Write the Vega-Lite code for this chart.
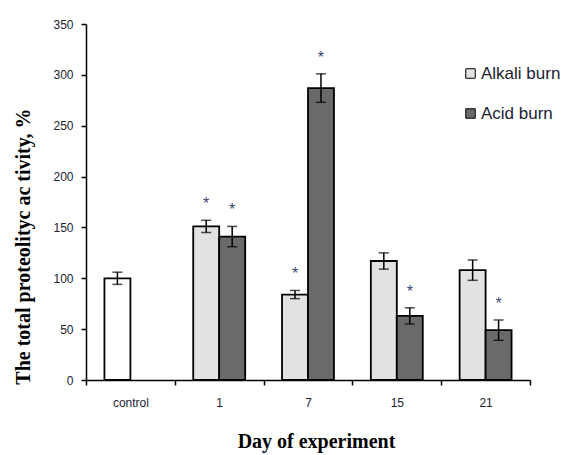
{
  "$schema": "https://vega.github.io/schema/vega-lite/v6.json",
  "width": 444,
  "height": 356,
  "autosize": {"type": "none"},
  "padding": {"left": 86, "top": 24, "right": 34, "bottom": 75},
  "background": "white",
  "config": {
    "view": {"stroke": null},
    "font": "Liberation Sans",
    "axis": {"domainColor": "black", "tickColor": "black", "domainWidth": 1.5, "tickWidth": 1.5, "labelColor": "#222233", "titleColor": "black"}
  },
  "data": {
    "values": [
      {"day": "control", "type": "Control", "slot": 1, "mean": 100, "sd": 6, "star": ""},
      {"day": "1", "type": "Alkali burn", "slot": 1, "mean": 151, "sd": 6, "star": "*"},
      {"day": "1", "type": "Acid burn", "slot": 2, "mean": 141, "sd": 10, "star": "*"},
      {"day": "7", "type": "Alkali burn", "slot": 1, "mean": 84, "sd": 4, "star": "*"},
      {"day": "7", "type": "Acid burn", "slot": 2, "mean": 287, "sd": 14, "star": "*"},
      {"day": "15", "type": "Alkali burn", "slot": 1, "mean": 117, "sd": 8, "star": ""},
      {"day": "15", "type": "Acid burn", "slot": 2, "mean": 63, "sd": 8, "star": "*"},
      {"day": "21", "type": "Alkali burn", "slot": 1, "mean": 108, "sd": 10, "star": ""},
      {"day": "21", "type": "Acid burn", "slot": 2, "mean": 49, "sd": 10, "star": "*"}
    ]
  },
  "transform": [
    {"calculate": "datum.mean - datum.sd", "as": "lo"},
    {"calculate": "datum.mean + datum.sd", "as": "hi"}
  ],
  "encoding": {
    "x": {
      "field": "day", "type": "nominal",
      "sort": ["control", "1", "7", "15", "21"],
      "scale": {"paddingInner": 0, "paddingOuter": 0},
      "axis": {
        "title": "Day of experiment",
        "labelAngle": 0,
        "tickBand": "extent",
        "tickSize": 5,
        "labelFontSize": 12,
        "labelFont": "Liberation Sans Narrow, Liberation Sans",
        "labelPadding": 12,
        "titleFont": "Liberation Serif",
        "titleFontWeight": "bold",
        "titleFontSize": 20,
        "titleX": 230,
        "titleY": 61,
        "titleBaseline": "middle"
      }
    },
    "xOffset": {"field": "slot", "type": "ordinal", "scale": {"domain": [1, 2], "paddingInner": 0, "paddingOuter": 0.71}}
  },
  "layer": [
    {
      "mark": {"type": "bar", "stroke": "black", "strokeWidth": 1.8},
      "encoding": {
        "y": {
          "field": "mean", "type": "quantitative",
          "scale": {"domain": [0, 350]},
          "axis": {
            "title": "The total proteolityc ac tivity, %",
            "values": [0, 50, 100, 150, 200, 250, 300, 350],
            "grid": false,
            "tickSize": 5,
            "labelFontSize": 12,
            "labelFont": "Liberation Sans Narrow, Liberation Sans",
            "labelPadding": 8,
            "titleFont": "Liberation Serif",
            "titleFontWeight": "bold",
            "titleFontSize": 20,
            "titleAngle": -90,
            "titleX": -63,
            "titleY": 222,
            "titleAlign": "center",
            "titleBaseline": "middle"
          }
        },
        "color": {
          "field": "type", "type": "nominal",
          "scale": {"domain": ["Alkali burn", "Acid burn", "Control"], "range": ["#e2e2e2", "#6a6a6a", "white"]},
          "legend": {
            "values": ["Alkali burn", "Acid burn"],
            "title": null,
            "orient": "none",
            "legendX": 376,
            "legendY": 41,
            "padding": 0,
            "symbolType": "square",
            "symbolSize": 90,
            "symbolStrokeColor": "black",
            "symbolStrokeWidth": 1,
            "symbolOpacity": 1,
            "labelFontSize": 17,
            "labelFont": "Liberation Sans",
            "labelColor": "#222233",
            "labelOffset": 2,
            "rowPadding": 22
          }
        }
      }
    },
    {
      "mark": {"type": "rule", "color": "black", "strokeWidth": 1.5},
      "encoding": {"y": {"field": "lo", "type": "quantitative"}, "y2": {"field": "hi"}}
    },
    {
      "mark": {"type": "tick", "color": "black", "size": 10, "thickness": 1.5},
      "encoding": {"y": {"field": "hi", "type": "quantitative"}}
    },
    {
      "mark": {"type": "tick", "color": "black", "size": 10, "thickness": 1.5},
      "encoding": {"y": {"field": "lo", "type": "quantitative"}}
    },
    {
      "mark": {"type": "text", "fontSize": 16, "color": "#3c4a70", "baseline": "alphabetic", "dy": -11},
      "encoding": {"y": {"field": "hi", "type": "quantitative"}, "text": {"field": "star"}}
    }
  ]
}
